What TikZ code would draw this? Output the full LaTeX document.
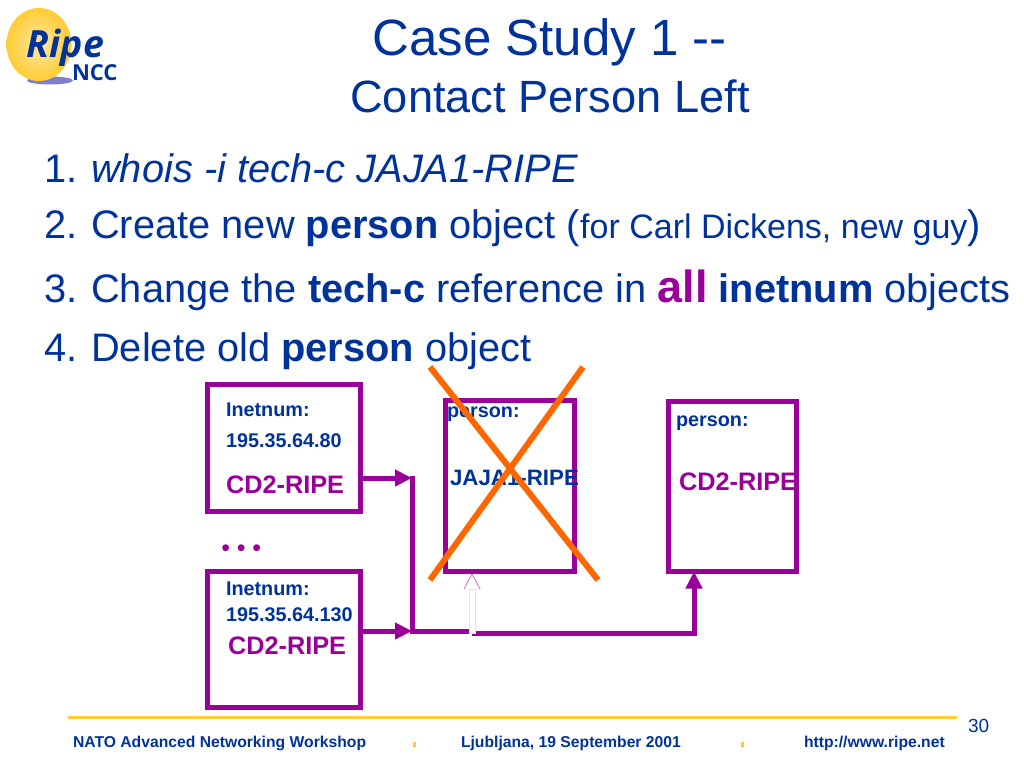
\documentclass[tikz,border=0pt]{standalone}
\usepackage{fontspec}
\setmainfont{Liberation Sans}
\newfontfamily\logofont{Open Sans}
\usetikzlibrary{arrows.meta,calc}
\definecolor{ripeblue}{HTML}{003399}
\definecolor{ripepurple}{HTML}{990099}
\definecolor{ripeorange}{HTML}{FF6600}
\definecolor{ripeyellow}{HTML}{FFCC33}
\newcommand{\fsz}[1]{\fontsize{#1}{#1}\selectfont}
\newcommand{\numgap}{\kern3pt\ }
\tikzset{
  txt/.style={anchor=base west,inner sep=0pt,outer sep=0pt,text=ripeblue},
  title/.style={anchor=base,inner sep=0pt,text=ripeblue},
  item/.style={txt,font=\fsz{39.8}},
  small/.style={txt,font=\fsz{19.8}\bfseries},
  cdtxt/.style={txt,font=\fsz{25.3}\bfseries,text=ripepurple},
  foot/.style={txt,font=\fsz{15.7}\bfseries},
  objbox/.style={draw=ripepurple,line width=5pt,fill=white,inner sep=0pt,outer sep=0pt},
  conn/.style={draw=ripepurple,line width=5pt},
  head/.style={-{Triangle[length=17pt,width=16pt]}},
  crossline/.style={draw=ripeorange,line width=6pt},
}
\begin{document}
\begin{tikzpicture}[x=1pt,y=-1pt]
\useasboundingbox (0,0) rectangle (1024,768);
\fill[white] (0,0) rectangle (1024,768);
% logo
\fill[blue!60!black,opacity=.5] (50,80.5) ellipse (23 and 4);
\shade[inner color=ripeyellow!45!white,outer color=ripeyellow] (39,44.5) circle[x radius=32.5,y radius=36.5];
\node[txt,font=\logofont\fsz{37.5}\bfseries\itshape] (logoa) at (27,58) {Ripe};
\node[txt,font=\logofont\fsz{22}\bfseries] (logob) at (72,80) {NCC};
% titles
\node[title,font=\fsz{51}] (t1) at (549.5,56) {Case Study 1 -{}-};
\node[title,font=\fsz{45.2}] (t2) at (550,112) {Contact Person Left};
% list
\node[item] (i1) at (44,182) {1.\numgap\textit{whois -i tech-c JAJA1-RIPE}};
\node[item] (i2) at (44,238.5) {2.\numgap Create new \textbf{person} object ({\fsz{34}for Carl Dickens, new guy})};
\node[item] (i3) at (44,302.5) {3.\numgap Change the \textbf{tech-c} reference in {\fsz{45}\bfseries\color{ripepurple}all} \textbf{inetnum} objects};
\node[item] (i4) at (44,361) {4.\numgap Delete old \textbf{person} object};
% boxes
\node[objbox,minimum width=153pt,minimum height=127pt] (b1) at (284,448) {};
\node[objbox,minimum width=153pt,minimum height=136pt] (b2) at (284,639.5) {};
\node[objbox,minimum width=129pt,minimum height=171pt] (p1) at (510,486) {};
\node[objbox,minimum width=128pt,minimum height=170pt] (p2) at (732.5,486.5) {};
% connectors
\coordinate (j1) at (412,478);
\coordinate (j2) at (412,631);
\coordinate (j3) at (472,631);
\coordinate (j4) at (472,633);
\coordinate (j5) at (694,633);
\draw[conn,line cap=butt] (j1) ++(0,-2.5) -- (j2) -- (j3);
\draw[conn] (j4) -- (j5) -- ($(j5)+(0,-20)$);
\draw[conn,head] (b1.east |- j1) -- (j1);
\draw[conn,head] (b2.east |- j2) -- (j2);
\draw[conn,head] (j5) -- (p2.south -| j5);
% hollow arrow
\draw[draw=ripepurple!15,line width=.8pt,fill=white] (469,633) -- (469,589) -- (475,589) -- (475,633) -- cycle;
\draw[draw=ripepurple!60,line width=.7pt] (464,589) -- (472,574) -- (480,589);
% labels
\node[small] (l1) at (226,416) {Inetnum:};
\node[small] (l2) at (226,447) {195.35.64.80};
\node[cdtxt] (l3) at (226,493) {CD2-RIPE};
\node[small] (l4) at (226,595) {Inetnum:};
\node[small] (l5) at (226,621) {195.35.64.130};
\node[cdtxt] (l6) at (228,654) {CD2-RIPE};
\node[small] (l7) at (447,417) {person:};
\node[txt,font=\fsz{22.3}\bfseries] (l8) at (450,485) {JAJA1-RIPE};
\node[small] (l9) at (676,426) {person:};
\node[cdtxt] (l10) at (679,490) {CD2-RIPE};
\node[txt,font=\fsz{25},text=ripepurple] (dots) at (221.3,556) {\textbullet\kern6.8pt\textbullet\kern6.8pt\textbullet};
% cross
\draw[crossline] (430,367) -- (598,580);
\draw[crossline] (583,367) -- (430,580);
% footer
\draw[draw=ripeyellow,line width=3pt] (68,717) -- (957,717);
\node[foot] (f1) at (73,747) {NATO Advanced Networking Workshop};
\node[foot] (f2) at (461,747) {Ljubljana, 19 September 2001};
\node[foot] (f3) at (804,747) {http://www.ripe.net};
\fill[ripeyellow] (412.5,742) rectangle (415.5,747);
\fill[ripeyellow] (740.5,742) rectangle (743.5,747);
\node[txt,font=\fsz{19}] (pg) at (968,732) {30};
\end{tikzpicture}
\end{document}
